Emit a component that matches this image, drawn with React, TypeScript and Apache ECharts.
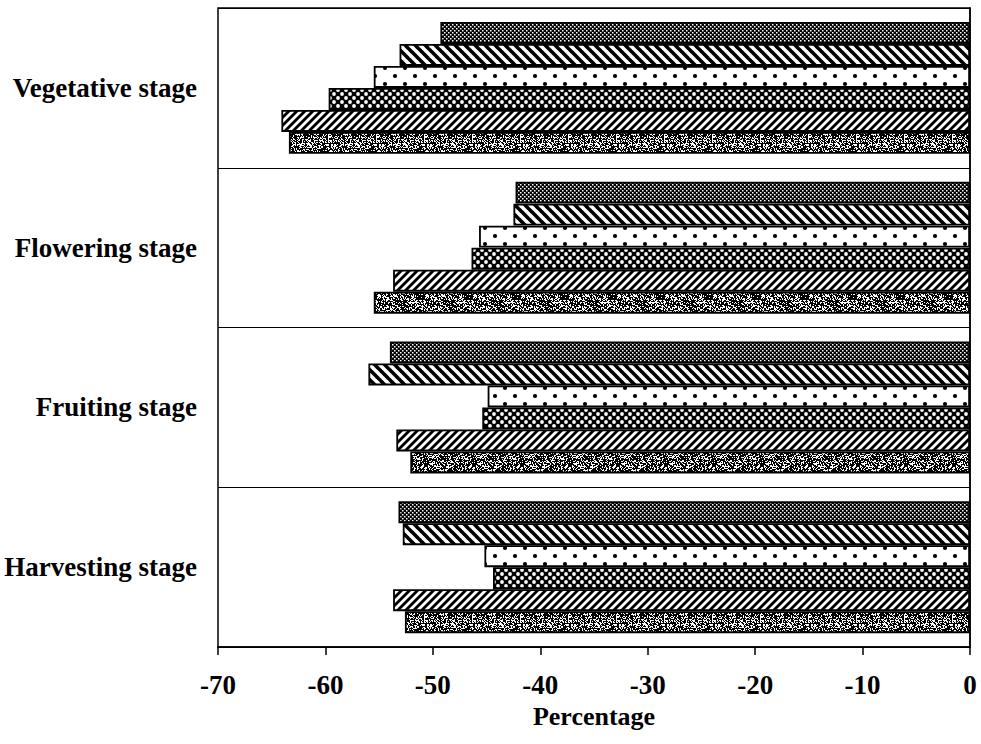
import React, { useEffect, useRef } from 'react';
import * as echarts from 'echarts';

const categories = ['Vegetative stage', 'Flowering stage', 'Fruiting stage', 'Harvesting stage'];
const seriesA = [-49.3, -42.3, -54.0, -53.2];
const seriesB = [-53.1, -42.5, -56.0, -52.8];
const seriesC = [-55.5, -45.7, -44.9, -45.2];
const seriesD = [-59.7, -46.4, -45.4, -44.4];
const seriesE = [-64.1, -53.7, -53.4, -53.7];
const seriesF = [-63.4, -55.5, -52.1, -52.6];
const seriesNames = ['A', 'B', 'C', 'D', 'E', 'F'];
const xMin = -70;
const xMax = 0;
const xStep = 10;

function makeCanvas(w: number, h: number, draw: (ctx: CanvasRenderingContext2D) => void) {
  const c = document.createElement('canvas');
  c.width = w;
  c.height = h;
  const ctx = c.getContext('2d') as CanvasRenderingContext2D;
  draw(ctx);
  return c;
}

function patDense() {
  return makeCanvas(4, 4, (ctx) => {
    ctx.fillStyle = '#000';
    ctx.fillRect(0, 0, 4, 4);
    ctx.fillStyle = '#fff';
    ctx.fillRect(0, 0, 1.5, 1.5);
    ctx.fillRect(2, 2, 1.5, 1.5);
  });
}

function patStripes(size: number, width: number, back: boolean) {
  return makeCanvas(size, size, (ctx) => {
    ctx.fillStyle = '#fff';
    ctx.fillRect(0, 0, size, size);
    ctx.strokeStyle = '#000';
    ctx.lineWidth = width;
    for (let k = -1; k <= 1; k++) {
      ctx.beginPath();
      if (back) {
        ctx.moveTo(k * size - 1, -1);
        ctx.lineTo(k * size + size + 1, size + 1);
      } else {
        ctx.moveTo(k * size - 1, size + 1);
        ctx.lineTo(k * size + size + 1, -1);
      }
      ctx.stroke();
    }
  });
}

function patDots() {
  return makeCanvas(20, 16, (ctx) => {
    ctx.fillStyle = '#fff';
    ctx.fillRect(0, 0, 20, 16);
    ctx.fillStyle = '#000';
    ctx.beginPath();
    ctx.arc(5, 4, 2.1, 0, Math.PI * 2);
    ctx.fill();
    ctx.beginPath();
    ctx.arc(15, 12, 2.1, 0, Math.PI * 2);
    ctx.fill();
  });
}

function patChecker() {
  return makeCanvas(8, 8, (ctx) => {
    ctx.fillStyle = '#000';
    ctx.fillRect(0, 0, 8, 8);
    ctx.fillStyle = '#fff';
    ctx.beginPath();
    ctx.arc(2, 2, 1.9, 0, Math.PI * 2);
    ctx.fill();
    ctx.beginPath();
    ctx.arc(6, 6, 1.9, 0, Math.PI * 2);
    ctx.fill();
  });
}

function patSpeckle() {
  const n = 48;
  return makeCanvas(n, n, (ctx) => {
    ctx.fillStyle = '#fff';
    ctx.fillRect(0, 0, n, n);
    ctx.fillStyle = '#000';
    let s = 12345;
    for (let y = 0; y < n; y++) {
      for (let x = 0; x < n; x++) {
        s = (s * 1103515245 + 12345) & 0x7fffffff;
        if ((s >> 8) % 100 < 62) ctx.fillRect(x, y, 1, 1);
      }
    }
  });
}

export default function App() {
  const ref = useRef<HTMLDivElement>(null);
  useEffect(() => {
    if (!ref.current) return;
    const chart = echarts.init(ref.current, undefined, { renderer: 'svg' });
    const font = 'Liberation Serif';
    const patterns = [
      patDense(),
      patStripes(10, 3.6, true),
      patDots(),
      patChecker(),
      patStripes(8, 2.8, false),
      patSpeckle(),
    ];
    const data = [seriesA, seriesB, seriesC, seriesD, seriesE, seriesF];
    chart.setOption({
      animation: false,
      backgroundColor: '#fff',
      grid: {
        left: 218,
        right: 11,
        top: 8,
        bottom: 97,
        show: true,
        borderColor: '#000',
        borderWidth: 1.5,
      },
      xAxis: {
        type: 'value',
        min: xMin,
        max: xMax,
        interval: xStep,
        name: 'Percentage',
        nameLocation: 'middle',
        nameGap: 56,
        nameMoveOverlap: false,
        nameTextStyle: { fontFamily: font, fontWeight: 'bold', fontSize: 26, color: '#000' },
        axisLine: { show: true, lineStyle: { color: '#000', width: 1.5 } },
        axisTick: { show: true, length: 8, lineStyle: { color: '#000', width: 1.5 } },
        splitLine: { show: false },
        axisLabel: { margin: 24, fontFamily: font, fontWeight: 'bold', fontSize: 27, color: '#000' },
      },
      yAxis: {
        type: 'category',
        data: categories,
        inverse: true,
        axisLine: { show: true, lineStyle: { color: '#000', width: 1.5 } },
        axisTick: { show: false },
        splitLine: { show: true, lineStyle: { color: '#000', width: 1.2 } },
        axisLabel: { margin: 21, fontFamily: font, fontWeight: 'bold', fontSize: 27, color: '#000' },
      },
      series: data.map((d, i) => ({
        type: 'bar',
        name: seriesNames[i],
        data: d,
        barWidth: 22,
        barGap: '0%',
        itemStyle: {
          color: { image: patterns[i], repeat: 'repeat' },
          borderColor: '#000',
          borderWidth: 1.8,
        },
      })),
    });
    return () => chart.dispose();
  }, []);
  return <div ref={ref} style={{ width: 981, height: 744, position: 'absolute', left: 0, top: 0 }} />;
}
